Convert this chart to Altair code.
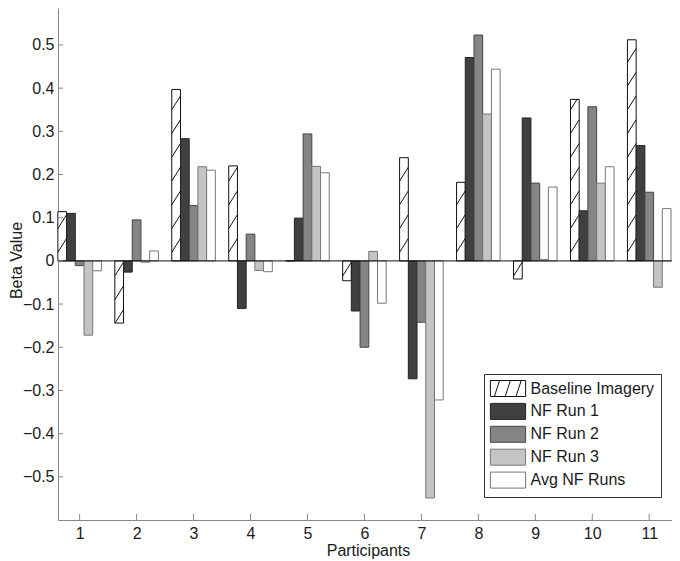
import altair as alt
import pandas as pd

# ---- data ----
participants = list(range(1, 12))
series_names = ["Baseline Imagery", "NF Run 1", "NF Run 2", "NF Run 3", "Avg NF Runs"]
baseline = [0.114, -0.144, 0.397, 0.220, 0.0, -0.046, 0.239, 0.182, -0.042, 0.374, 0.512]
nf_run1 = [0.110, -0.026, 0.283, -0.110, 0.099, -0.116, -0.273, 0.471, 0.331, 0.116, 0.267]
nf_run2 = [-0.011, 0.095, 0.128, 0.062, 0.294, -0.200, -0.142, 0.523, 0.180, 0.357, 0.159]
nf_run3 = [-0.172, -0.003, 0.218, -0.022, 0.219, 0.022, -0.549, 0.340, 0.003, 0.180, -0.061]
avg_nf = [-0.023, 0.023, 0.210, -0.025, 0.204, -0.098, -0.322, 0.444, 0.171, 0.218, 0.121]
y_ticks = [-0.5, -0.4, -0.3, -0.2, -0.1, 0.0, 0.1, 0.2, 0.3, 0.4, 0.5]
x_ticks = participants

# ---- styles ----
fills = ["#ffffff", "#404040", "#858585", "#c4c4c4", "#ffffff"]
strokes = ["#111111", "#222222", "#444444", "#777777", "#777777"]
rect_path = "M-2.2,-1H2.2V1H-2.2Z"
hatch_path = (rect_path + " M-1.7,1L-1.05,-1 M-0.35,1L0.3,-1 M1.0,1L1.65,-1")
shapes = [hatch_path, rect_path, rect_path, rect_path, rect_path]

rows = []
for name, vals in zip(series_names, [baseline, nf_run1, nf_run2, nf_run3, avg_nf]):
    for p, v in zip(participants, vals):
        rows.append({"participant": p, "series": name, "value": v})
df = pd.DataFrame(rows)

BW = 0.153   # bar width in participant units
HS = 0.055   # hatch spacing (data units)
HD = 0.032   # hatch rise across a bar (data units)
HP = 0.02    # hatch phase

names_js = "[" + ",".join("'" + n + "'" for n in series_names) + "]"

W, H = 614, 512
xs = alt.Scale(domain=[0.62, 11.4], nice=False, zero=False)
ys = alt.Scale(domain=[-0.6, 0.5856], nice=False, zero=False)
FONT = "Liberation Sans"
TXT = "#1a1a1a"
AX = "#888888"

xaxis = alt.Axis(values=x_ticks, ticks=False, grid=False, format="d",
                 domainColor=AX, labelPadding=5, labelFontSize=16, labelColor=TXT,
                 labelFont=FONT, title="Participants", titleX=310, titleY=35,
                 titleBaseline="alphabetic", titleFontSize=16, titleFontWeight="normal",
                 titleColor=TXT, titleFont=FONT, titleAlign="center")
yaxis = alt.Axis(values=y_ticks, ticks=False, grid=False, domainColor=AX,
                 labelExpr="datum.value == 0 ? '0' : format(datum.value, '.1f')",
                 labelPadding=4, labelFontSize=16, labelColor=TXT, labelFont=FONT,
                 title="Beta Value", titleX=-37, titleY=252, titleAngle=270,
                 titleBaseline="alphabetic", titleFontSize=16, titleFontWeight="normal",
                 titleColor=TXT, titleFont=FONT, titleAlign="center")

leg = alt.Legend(title=None)
fill_enc = alt.Fill("series:N", scale=alt.Scale(domain=series_names, range=fills), legend=leg)
stroke_enc = alt.Stroke("series:N", scale=alt.Scale(domain=series_names, range=strokes), legend=leg)
shape_enc = alt.Shape("series:N", scale=alt.Scale(domain=series_names, range=shapes), legend=leg)

base = (alt.Chart(df)
        .transform_calculate(idx="indexof(" + names_js + ", datum.series)")
        .transform_calculate(xl="datum.participant + (datum.idx - 2.5) * %f" % BW)
        .transform_calculate(xr="datum.xl + %f" % BW))

bars = base.mark_bar(strokeWidth=1).encode(
    x=alt.X("xl:Q", scale=xs, axis=xaxis),
    x2="xr:Q",
    y=alt.Y("value:Q", scale=ys, axis=yaxis),
    y2=alt.datum(0),
    fill=fill_enc,
    stroke=stroke_enc,
)

hatch = (base.transform_filter("datum.idx == 0")
         .transform_calculate(lo="min(0, datum.value)", hi="max(0, datum.value)")
         .transform_calculate(ks="sequence(floor((datum.lo - %f) / %f) - 1, ceil(datum.hi / %f) + 1)" % (HD, HS, HS))
         .transform_flatten(["ks"])
         .transform_calculate(yk="datum.ks * %f + %f" % (HS, HP))
         .transform_calculate(t1="max(0, (datum.lo - datum.yk) / %f)" % HD,
                              t2="min(1, (datum.hi - datum.yk) / %f)" % HD)
         .transform_filter("datum.t2 > datum.t1")
         .transform_calculate(hx1="datum.xl + datum.t1 * %f" % BW,
                              hx2="datum.xl + datum.t2 * %f" % BW,
                              hy1="datum.yk + datum.t1 * %f" % HD,
                              hy2="datum.yk + datum.t2 * %f" % HD)
         .mark_rule(color="#111111", strokeWidth=1)
         .encode(x=alt.X("hx1:Q", scale=xs, axis=xaxis), x2="hx2:Q",
                 y=alt.Y("hy1:Q", scale=ys, axis=yaxis), y2="hy2:Q"))

zero_line = alt.Chart(pd.DataFrame({"z": [0.0]})).mark_rule(color="#111111", strokeWidth=1).encode(
    y=alt.Y("z:Q", scale=ys, axis=yaxis))

ytick_rules = alt.Chart(pd.DataFrame({"t": y_ticks})).mark_rule(color=AX, strokeWidth=1).encode(
    y=alt.Y("t:Q", scale=ys, axis=yaxis), x=alt.value(0), x2=alt.value(5))

xtick_rules = alt.Chart(pd.DataFrame({"p": x_ticks})).mark_rule(color=AX, strokeWidth=1).encode(
    x=alt.X("p:Q", scale=xs, axis=xaxis), y=alt.value(H), y2=alt.value(H - 6))

legend_pts = base.mark_point(filled=True, clip=True, strokeWidth=1, opacity=1).encode(
    x=alt.X("xl:Q", scale=xs, axis=xaxis),
    y=alt.datum(5),
    fill=fill_enc,
    stroke=stroke_enc,
    shape=shape_enc,
)

chart = (alt.layer(bars, hatch, zero_line, ytick_rules, xtick_rules, legend_pts)
         .properties(width=W, height=H,
                     autosize=alt.AutoSizeParams(type="none"),
                     padding={"left": 50, "top": 0, "right": 0, "bottom": 41})
         .configure(font=FONT)
         .configure_view(stroke=None)
         .configure_legend(orient="none", legendX=426, legendY=366,
                           strokeColor="#333333", fillColor="#ffffff", padding=6,
                           labelFontSize=16, labelFont=FONT, labelColor=TXT,
                           symbolSize=256, symbolStrokeWidth=1, rowPadding=1.9,
                           symbolOffset=9.5, labelOffset=14, cornerRadius=0))

chart.save("out.html", embed_options={"renderer": "svg", "actions": False})
